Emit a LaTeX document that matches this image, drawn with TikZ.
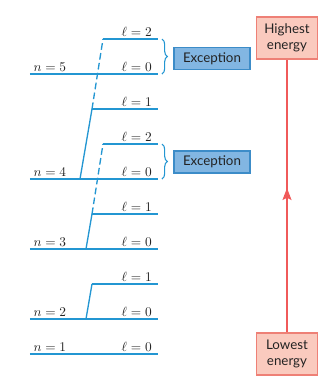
\documentclass[tikz,border=0pt]{standalone}
\usepackage{fontspec}
\setsansfont{Lato}
\usepackage{xcolor}
\usetikzlibrary{arrows.meta}
\usetikzlibrary{positioning}
\usetikzlibrary{decorations.pathreplacing,decorations.markings}

\definecolor{levelblue}{RGB}{35,150,210}
\definecolor{excfill}{RGB}{130,182,226}
\definecolor{excborder}{RGB}{60,140,200}
\definecolor{energyfill}{RGB}{250,202,190}
\definecolor{energyborder}{RGB}{238,128,118}
\definecolor{energyred}{RGB}{240,90,90}
\definecolor{textgray}{RGB}{35,35,35}

\begin{document}
\begin{tikzpicture}[
    x=0.75pt, y=-0.75pt,
    % Level lines
    level/.style={draw=levelblue, line width=1pt},
    dash jump/.style={level, dash pattern=on 5pt off 2.5pt},
    % Labels sitting on the lines
    n label/.style={anchor=south west, inner sep=1.5pt, xshift=1pt, text=textgray},
    l label/.style={anchor=south east, inner sep=1.5pt, xshift=-3pt, text=textgray},
    % Boxes
    exception box/.style={draw=excborder, fill=excfill, line width=0.8pt, minimum width=57pt, minimum height=16.5pt, inner sep=2pt, font=\sffamily, text=textgray},
    energy box/.style={draw=energyborder, fill=energyfill, line width=0.8pt, minimum width=46pt, minimum height=31.5pt, inner sep=2pt, align=center, font=\sffamily, text=textgray},
    my brace/.style={draw=levelblue, line width=0.8pt, decorate, decoration={brace, amplitude=4pt}},
    energy arrow/.style={draw=energyred, line width=1.9pt, postaction={decorate},
      decoration={markings, mark=at position 0.53 with {\arrow[energyred]{Stealth[length=9pt, width=6.5pt, inset=1.5pt]}}}}
  ]

  \useasboundingbox (0,0) rectangle (331,387);

  % --- Shell lines (l = 0) ---
  \foreach \n/\y in {1/354, 2/319, 3/249, 4/179, 5/74} {
    \coordinate (n\n L) at (30,\y);
    \coordinate (n\n R) at (158,\y);
    \draw[level] (n\n L) -- (n\n R);
    \node[n label] (nlab\n) at (n\n L) {$n = \n$};
    \node[l label] (slab\n) at (n\n R) {$\ell = 0$};
  }

  % --- Subshell lines (l = 1, 2) ---
  \coordinate (p2L) at (92,284);  \coordinate (p2R) at (158,284);
  \coordinate (p3L) at (92,214);  \coordinate (p3R) at (158,214);
  \coordinate (p4L) at (92,109);  \coordinate (p4R) at (158,109);
  \coordinate (d3L) at (103,144); \coordinate (d3R) at (158,144);
  \coordinate (d4L) at (103,39);  \coordinate (d4R) at (158,39);
  \foreach \s/\l in {p2/1, p3/1, p4/1, d3/2, d4/2} {
    \draw[level] (\s L) -- (\s R);
    \node[l label] (\s lab) at (\s R) {$\ell = \l$};
  }

  % --- Steps between levels ---
  \coordinate (n2foot) at (86,319);
  \coordinate (n3foot) at (86,249);
  \coordinate (n4foot) at (80,179);
  \draw[level] (n2foot) -- (p2L);
  \draw[level] (n3foot) -- (p3L);
  \draw[level] (n4foot) -- (p4L);
  \draw[dash jump] (p3L) -- (d3L);
  \draw[dash jump] (p4L) -- (d4L);

  % --- Exceptions ---
  \draw[my brace] (162,39) -- (162,74) coordinate[midway, xshift=5pt] (brace5);
  \draw[my brace] (162,144) -- (162,179) coordinate[midway, xshift=5pt] (brace4);
  \node[exception box] (exc5) at (212,58.5) {Exception};
  \node[exception box] (exc4) at (212,162) {Exception};

  % --- Energy scale ---
  \node[energy box] (high) at (287,38) {Highest\\energy};
  \node[energy box] (low) at (287,354) {Lowest\\energy};
  \draw[energy arrow] (low) -- (high);

\end{tikzpicture}
\end{document}
